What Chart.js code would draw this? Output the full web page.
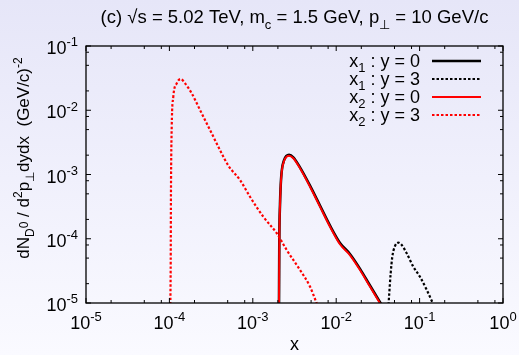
<!DOCTYPE html>
<html><head><meta charset="utf-8">
<script src="https://cdn.jsdelivr.net/npm/chart.js@4.4.1/dist/chart.umd.min.js"></script>
<style>
html,body{margin:0;padding:0;overflow:hidden;}
body{width:519px;height:355px;background:linear-gradient(to bottom,#e6e6f8 0%,#f0f0fc 50%,#fafaff 100%);}
#wrap{position:relative;width:519px;height:355px;}
canvas{display:block;}
</style></head><body><div id="wrap"><canvas id="c" width="519" height="355" style="width:519px;height:355px"></canvas></div>
<script>
// ---- data ----
const titleText = "(c) √s = 5.02 TeV, m_c = 1.5 GeV, p_⊥ = 10 GeV/c";
const seriesNames = ["x1 : y = 0", "x1 : y = 3", "x2 : y = 0", "x2 : y = 3"];
const xTickExponents = [-5, -4, -3, -2, -1, 0];
const yTickExponents = [-5, -4, -3, -2, -1];
const minorMultipliers = [2, 5, 8];

const x1y0_x = [2.06e-3, 2.08e-3, 2.12e-3, 2.15e-3, 2.22e-3, 2.37e-3, 2.72e-3, 3.06e-3, 3.68e-3, 4.85e-3, 6.39e-3, 8.43e-3, 1.11e-2, 1.46e-2, 1.93e-2, 2.54e-2, 3.35e-2, 3.8e-2];
const x1y0_y = [8e-6, 9.9e-5, 3.45e-4, 5.92e-4, 1.12e-3, 1.67e-3, 2.02e-3, 1.85e-3, 1.29e-3, 6.70e-4, 3.28e-4, 1.60e-4, 8.6e-5, 5.8e-5, 3.4e-5, 1.87e-5, 1.03e-5, 7.8e-6];

const x1y3_x = [4.2e-2, 4.30e-2, 4.50e-2, 4.71e-2, 5.07e-2, 5.56e-2, 6.10e-2, 7.0e-2, 8.41e-2, 1.01e-1, 1.22e-1, 1.44e-1, 1.57e-1];
const x1y3_y = [8e-6, 1.25e-5, 2.90e-5, 5.26e-5, 7.71e-5, 8.69e-5, 8.0e-5, 5.94e-5, 3.67e-5, 2.56e-5, 1.59e-5, 9.9e-6, 7.6e-6];

const x2y0_x = [2.06e-3, 2.08e-3, 2.12e-3, 2.15e-3, 2.22e-3, 2.37e-3, 2.72e-3, 3.06e-3, 3.68e-3, 4.85e-3, 6.39e-3, 8.43e-3, 1.11e-2, 1.46e-2, 1.93e-2, 2.54e-2, 3.35e-2, 3.8e-2];
const x2y0_y = [8e-6, 9.57e-5, 3.35e-4, 5.74e-4, 1.09e-3, 1.62e-3, 1.96e-3, 1.79e-3, 1.25e-3, 6.46e-4, 3.16e-4, 1.54e-4, 8.2e-5, 5.58e-5, 3.27e-5, 1.80e-5, 9.9e-6, 7.6e-6];

const x2y3_x = [1.026e-4, 1.037e-4, 1.044e-4, 1.066e-4, 1.114e-4, 1.225e-4, 1.367e-4, 1.54e-4, 1.85e-4, 2.33e-4, 3.07e-4, 4.04e-4, 5.08e-4, 7.03e-4, 9.25e-4, 1.336e-3, 1.936e-3, 2.55e-3, 3.68e-3, 4.85e-3, 5.73e-3, 6.2e-3];
const x2y3_y = [8e-6, 4.67e-5, 5.09e-4, 5.55e-3, 1.626e-2, 2.624e-2, 3.06e-2, 2.624e-2, 1.837e-2, 1.009e-2, 4.93e-3, 2.41e-3, 1.38e-3, 8.2e-4, 4.51e-4, 2.20e-4, 1.22e-4, 6.68e-5, 3.27e-5, 1.80e-5, 1.05e-5, 8e-6];

// ---- helpers ----
const FONT = '"Liberation Sans", Arial, Helvetica, sans-serif';
const BASE = 18;
function pts(xs, ys){ return xs.map((x,i)=>({x:x, y:ys[i]})); }

function richWidth(ctx, parts, size){
  let w = 0;
  for (const [t,k] of parts){
    ctx.font = (k==='n' ? size : Math.round(size*0.72)) + 'px ' + FONT;
    w += ctx.measureText(t).width;
  }
  return w;
}
function drawRich(ctx, parts, x, y, size){
  let cx = x;
  for (const [t,k] of parts){
    const s = k==='n' ? size : Math.round(size*0.72);
    ctx.font = s + 'px ' + FONT;
    let dy = 0;
    if (k==='sub') dy = size*0.3;
    else if (k==='sup') dy = -size*0.42;
    else if (k==='subsup') dy = -size*0.05;
    ctx.fillText(t, cx, y+dy);
    cx += ctx.measureText(t).width;
  }
  return cx;
}
function parseLabel(s){
  return [['x','n'],[s.charAt(1),'sub'],[s.slice(2),'n']];
}

const styles = [
  {color:'#000000', width:2.6, dash:[]},
  {color:'#000000', width:2.2, dash:[2.5,2]},
  {color:'#ff0000', width:2.0, dash:[]},
  {color:'#ff0000', width:2.2, dash:[2.5,2]}
];
const dataSets = [pts(x1y0_x,x1y0_y), pts(x1y3_x,x1y3_y), pts(x2y0_x,x2y0_y), pts(x2y3_x,x2y3_y)];

const decor = {
  id:'decor',
  afterDatasetsDraw(chart){
    const ctx = chart.ctx;
    const xs = chart.scales.x, ys = chart.scales.y;
    const L = chart.chartArea.left, R = chart.chartArea.right, T = chart.chartArea.top, B = chart.chartArea.bottom;
    ctx.save();
    ctx.strokeStyle = '#000';
    ctx.lineWidth = 1.3;
    ctx.setLineDash([]);
    ctx.strokeRect(L, T, R-L, B-T);
    ctx.lineWidth = 1;
    for (const e of xTickExponents){
      const px = xs.getPixelForValue(Math.pow(10,e));
      ctx.beginPath(); ctx.moveTo(px,B); ctx.lineTo(px,B-5); ctx.moveTo(px,T); ctx.lineTo(px,T+5); ctx.stroke();
      if (e < 0) for (const m of minorMultipliers){
        const qx = xs.getPixelForValue(m*Math.pow(10,e));
        ctx.beginPath(); ctx.moveTo(qx,B); ctx.lineTo(qx,B-3); ctx.moveTo(qx,T); ctx.lineTo(qx,T+3); ctx.stroke();
      }
    }
    for (const e of yTickExponents){
      const py = ys.getPixelForValue(Math.pow(10,e));
      ctx.beginPath(); ctx.moveTo(L,py); ctx.lineTo(L+5,py); ctx.moveTo(R,py); ctx.lineTo(R-5,py); ctx.stroke();
      if (e < -1) for (const m of minorMultipliers){
        const qy = ys.getPixelForValue(m*Math.pow(10,e));
        ctx.beginPath(); ctx.moveTo(L,qy); ctx.lineTo(L+3,qy); ctx.moveTo(R,qy); ctx.lineTo(R-3,qy); ctx.stroke();
      }
    }
    ctx.fillStyle = '#000';
    ctx.textBaseline = 'alphabetic';
    ctx.textAlign = 'left';
    for (const e of xTickExponents){
      const px = xs.getPixelForValue(Math.pow(10,e));
      const parts = [['10','n'],[String(e),'sup']];
      const w = richWidth(ctx, parts, BASE);
      drawRich(ctx, parts, px - w/2, B + 26, BASE);
    }
    for (const e of yTickExponents){
      const py = ys.getPixelForValue(Math.pow(10,e));
      const parts = [['10','n'],[String(e),'sup']];
      const w = richWidth(ctx, parts, BASE);
      drawRich(ctx, parts, 78 - w, py + 8, BASE);
    }
    const tparts = [['(c) √s = 5.02 TeV, m','n'],['c','sub'],[' = 1.5 GeV, p','n'],['⊥','sub'],[' = 10 GeV/c','n']];
    const TS = 18.5;
    const tw = richWidth(ctx, tparts, TS);
    drawRich(ctx, tparts, (L+R)/2 - tw/2, 23, TS);
    ctx.font = BASE+'px '+FONT;
    const xw = ctx.measureText('x').width;
    ctx.fillText('x', (L+R)/2 - xw/2, 350);
    const yparts = [['dN','n'],['D','sub'],['0','subsup'],[' / d','n'],['2','sup'],['p','n'],['⊥','sub'],['dydx  (GeV/c)','n'],['-2','sup']];
    const YS = 17;
    const yw = richWidth(ctx, yparts, YS);
    ctx.save();
    ctx.translate(29, 158);
    ctx.rotate(-Math.PI/2);
    drawRich(ctx, yparts, -yw/2, 0, YS);
    ctx.restore();
    const rowY = [61, 79, 97, 115];
    for (let i=0;i<4;i++){
      const parts = parseLabel(seriesNames[i]);
      const w = richWidth(ctx, parts, BASE);
      ctx.fillStyle = '#000';
      drawRich(ctx, parts, 420 - w, rowY[i] + 6, BASE);
      ctx.strokeStyle = styles[i].color;
      ctx.lineWidth = styles[i].width;
      ctx.setLineDash(styles[i].dash);
      ctx.beginPath(); ctx.moveTo(432, rowY[i]); ctx.lineTo(481, rowY[i]); ctx.stroke();
    }
    ctx.restore();
  }
};

new Chart(document.getElementById('c'), {
  type: 'line',
  data: {
    datasets: dataSets.map((d,i)=>({
      label: seriesNames[i],
      data: d,
      borderColor: styles[i].color,
      borderWidth: styles[i].width,
      borderDash: styles[i].dash,
      pointRadius: 0,
      fill: false,
      cubicInterpolationMode: 'monotone',
      order: 4 - i
    }))
  },
  options: {
    responsive: false,
    animation: false,
    devicePixelRatio: 1,
    layout: {padding: {left: 86, right: 16, top: 46, bottom: 52}},
    plugins: {legend: {display:false}, title:{display:false}, tooltip:{enabled:false}},
    scales: {
      x: {type:'logarithmic', min:1e-5, max:1, display:false},
      y: {type:'logarithmic', min:1e-5, max:0.1, display:false}
    }
  },
  plugins: [decor]
});
</script>
</body></html>
